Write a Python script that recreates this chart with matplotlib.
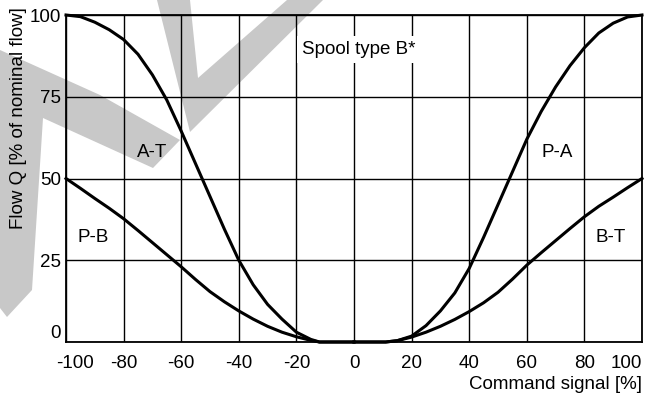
import matplotlib.pyplot as plt
from matplotlib.patches import Polygon
from matplotlib.transforms import ScaledTranslation

plt.rcParams['font.family'] = ['Liberation Sans', 'DejaVu Sans']
plt.rcParams['font.size'] = 13.5
plt.rcParams['axes.unicode_minus'] = False

# Data
cmd_left = [-100, -95, -90, -85, -80, -75, -70, -65, -60, -55, -50, -45, -40,
            -35, -30, -25, -20, -15, -12, 0]
a_t = [100, 99.5, 97.8, 95.5, 92.5, 88.0, 81.7, 74.0, 64.5, 54.5, 44.5, 34.5,
       25.0, 17.5, 11.5, 7.0, 3.0, 0.8, 0.0, 0.0]
p_b = [50, 47.0, 43.9, 40.9, 37.7, 34.1, 30.4, 26.7, 23.0, 19.1, 15.4, 12.3,
       9.5, 7.0, 4.8, 3.0, 1.6, 0.5, 0.0, 0.0]

cmd_right = [0, 11, 15, 20, 25, 30, 35, 40, 45, 50, 55, 60, 65, 70, 75, 80,
             85, 90, 95, 100]
p_a = [0.0, 0.0, 0.4, 1.8, 5.0, 9.5, 15.0, 22.5, 32.0, 42.0, 52.0, 62.0, 70.5,
       78.0, 84.5, 90.0, 94.5, 97.5, 99.4, 100]
b_t = [0.0, 0.0, 0.4, 1.5, 3.0, 4.8, 6.9, 9.3, 12.0, 15.2, 19.2, 23.5, 27.3,
       31.0, 34.7, 38.3, 41.5, 44.3, 47.2, 50]

x_ticks = [-100, -80, -60, -40, -20, 0, 20, 40, 60, 80, 100]
y_ticks = [0, 25, 50, 75, 100]

curve_labels = [('A-T', -70, 58), ('P-B', -90.5, 32), ('P-A', 70.5, 58), ('B-T', 89, 32)]

W, H = 652, 395
fig = plt.figure(figsize=(W / 100, H / 100), dpi=100)
ax = fig.add_axes([66 / W, 53 / H, 576 / W, 327 / H])
ax.set_facecolor('none')

# grey watermark behind the chart (pixel outline, y measured from top)
watermark = [
    [(0, 50), (100, 95), (180, 140), (153, 168), (43, 118), (32, 290), (7, 317), (0, 308)],
    [(157, 0), (190, 0), (198, 78), (287, 0), (323, 0), (190, 132)],
]
for shape in watermark:
    pts = [(x / W, 1 - y / H) for x, y in shape]
    fig.patches.append(Polygon(pts, closed=True, transform=fig.transFigure,
                               fc='#c8c8c8', ec='none', zorder=-1))

ax.plot(cmd_left, a_t, color='black', lw=2.2, clip_on=False)
ax.plot(cmd_left, p_b, color='black', lw=2.2, clip_on=False)
ax.plot(cmd_right, p_a, color='black', lw=2.2, clip_on=False)
ax.plot(cmd_right, b_t, color='black', lw=2.2, clip_on=False)

for name, x, y in curve_labels:
    ax.text(x, y, name, ha='center', va='center')

ax.text(1.5, 89.5, 'Spool type B*', ha='center', va='center', zorder=3,
        bbox=dict(boxstyle='square,pad=0.25', fc='white', ec='none'))

ax.set_xlim(-100, 100)
ax.set_ylim(0, 100)
ax.set_xticks(x_ticks)
ax.set_yticks(y_ticks)
ax.tick_params(length=0)
ax.tick_params(axis='x', pad=9)
ax.tick_params(axis='y', pad=3.5)
ax.yaxis.get_major_ticks()[0].label1.set_va('bottom')

# end labels of the x axis sit inside the frame
xt = ax.xaxis.get_major_ticks()
xt[0].label1.set_transform(xt[0].label1.get_transform()
                           + ScaledTranslation(0.09, 0, fig.dpi_scale_trans))
xt[-1].label1.set_transform(xt[-1].label1.get_transform()
                            + ScaledTranslation(-0.16, 0, fig.dpi_scale_trans))

ax.grid(True, color='black', lw=1.0)
for s in ax.spines.values():
    s.set_linewidth(1.3)

ax.set_xlabel('Command signal [%]', loc='right', labelpad=3)
fig.text(19 / W, 1 - 7 / H, 'Flow Q [% of nominal flow]', rotation=90,
         ha='center', va='top')

plt.savefig('out.png', dpi=100)
